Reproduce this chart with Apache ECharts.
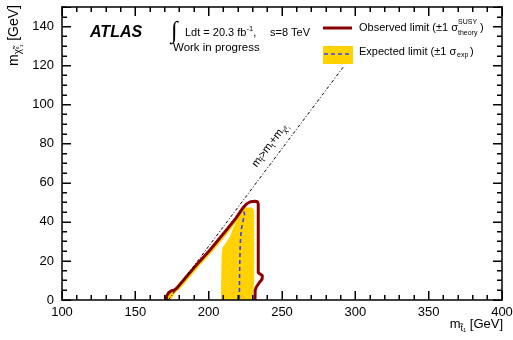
<!DOCTYPE html>
<html>
<head>
<meta charset="utf-8">
<script src="https://cdn.jsdelivr.net/npm/echarts@6/dist/echarts.min.js"></script>
<style>
  html, body { margin: 0; padding: 0; background: #fff; }
  #chart { width: 513px; height: 340px; }
</style>
</head>
<body>
<div id="chart"></div>
<script>
// Axis ticks
const xTickLabels = [100, 150, 200, 250, 300, 350, 400];
const yTickLabels = [0, 20, 40, 60, 80, 100, 120, 140];
const yRange = [0, 150];
const xMinorDivisions = 5;   // minor ticks every 10 GeV
const yMinorDivisions = 4;   // minor ticks every 5 GeV

// Observed 95% CL exclusion contour (m_stop, m_neutralino) in GeV
const observedLimit = [
  [170.9, 0], [171.5, 2.3], [172.8, 3.8], [174.6, 4.7], [176.3, 5.0], [178.2, 6.0],
  [184.5, 11.6], [190.7, 17.1], [200.9, 25.6], [211.0, 34.8], [218.5, 41.8],
  [221.4, 45.0], [223.5, 47.3], [226.0, 49.3], [228.5, 50.3], [231.6, 50.5],
  [233.3, 50.3], [233.8, 49.2], [233.8, 30.0], [233.8, 14.0], [234.6, 13.2],
  [236.6, 12.6], [237.2, 11.8], [236.4, 10.6], [234.4, 8.8], [232.6, 6.8],
  [231.7, 5.0], [231.6, 0]
];

// Expected exclusion contour
const expectedLimit = [
  [171.2, 0], [172.2, 2.6], [174.0, 4.2], [176.6, 5.2], [178.6, 6.3], [191.0, 17.4],
  [201.3, 26.0], [211.4, 35.1], [218.0, 41.3], [221.0, 44.2], [222.6, 45.3],
  [224.0, 45.2], [224.5, 44.0], [223.6, 41.0], [222.2, 36.0], [221.5, 28.0],
  [221.1, 15.0], [220.9, 0]
];

// Expected +1 sigma contour (outer edge of the band)
const expectedBandOuter = [
  [170.6, 0], [171.2, 2.4], [172.6, 4.0], [174.5, 4.9], [176.3, 5.2], [178.2, 6.2],
  [190.7, 17.3], [200.9, 25.8], [211.0, 35.0], [218.5, 41.8], [221.4, 44.6],
  [223.6, 46.6], [225.0, 47.4], [229.5, 47.4], [230.6, 46.5], [231.0, 44.0],
  [231.0, 10.0], [230.6, 6.0], [230.2, 0]
];

// Expected -1 sigma contour (inner edge of the band)
const expectedBandInner = [
  [174.2, 0], [177.0, 3.6], [180.9, 6.0], [193.4, 17.1], [203.6, 25.6],
  [213.7, 34.8], [219.5, 40.6], [216.5, 36.5], [214.5, 32.4], [211.5, 29.0],
  [209.3, 26.5], [208.8, 22.0], [208.4, 0]
];

// Kinematic boundary m_stop = m_top + m_neutralino
const kinematicLimit = [[172.5, 0], [292.5, 120]];

const FONT = '"Liberation Sans", Arial, Helvetica, sans-serif';
const RED = '#8b0000';
const YELLOW = '#ffd200';
const BLUE = '#3c3cff';

const xMin = xTickLabels[0];
const xMax = xTickLabels[xTickLabels.length - 1];
const xStep = xTickLabels[1] - xTickLabels[0];
const yStep = yTickLabels[1] - yTickLabels[0];
const MAJOR = 9, MINOR = 5;

function xAxisCfg(position, showLabels) {
  return {
    type: 'value', position, min: xMin, max: xMax, interval: xStep, z: 10,
    axisLine: { show: true, onZero: false, lineStyle: { color: '#000', width: 1.5 } },
    axisTick: { show: true, inside: true, length: MAJOR, lineStyle: { color: '#000', width: 1 } },
    minorTick: { show: true, splitNumber: xMinorDivisions, length: MINOR, lineStyle: { color: '#000', width: 1 } },
    axisLabel: { show: showLabels, color: '#000', fontFamily: FONT, fontSize: 13, margin: 6 },
    splitLine: { show: false }
  };
}

function yAxisCfg(position, showLabels) {
  return {
    type: 'value', position, min: yRange[0], max: yRange[1], interval: yStep, z: 10,
    axisLine: { show: true, onZero: false, lineStyle: { color: '#000', width: 1.5 } },
    axisTick: { show: true, inside: true, length: MAJOR, lineStyle: { color: '#000', width: 1 } },
    minorTick: { show: true, splitNumber: yMinorDivisions, length: MINOR, lineStyle: { color: '#000', width: 1 } },
    axisLabel: {
      show: showLabels, color: '#000', fontFamily: FONT, fontSize: 13, margin: 8,
      formatter: v => (yTickLabels.indexOf(v) >= 0 ? String(v) : '')
    },
    splitLine: { show: false }
  };
}

function polygonSeries(name, points, color, z) {
  return {
    type: 'custom', name, z,
    coordinateSystem: 'cartesian2d', xAxisIndex: 0, yAxisIndex: 0,
    data: [points[0]],
    renderItem: (params, api) => ({
      type: 'polygon',
      shape: { points: points.map(p => api.coord(p)) },
      style: { fill: color }
    })
  };
}

function lineSeries(name, points, lineStyle, z) {
  return {
    type: 'line', name, z,
    xAxisIndex: 0, yAxisIndex: 0,
    data: points, showSymbol: false, symbol: 'none',
    lineStyle
  };
}

const txt = (size, extra) => Object.assign({ fontFamily: FONT, fontSize: size, fill: '#000' }, extra || {});

const labels = [
  // y axis title
  {
    type: 'text', x: 14, y: 5, rotation: Math.PI / 2, z: 20,
    style: {
      text: '{m|m}{s|χ̃}{ss|⁰₁}{m| [GeV]}',
      textAlign: 'right', textVerticalAlign: 'middle',
      rich: {
        m: txt(14, { lineHeight: 19, verticalAlign: 'middle' }),
        s: txt(10, { lineHeight: 10, verticalAlign: 'bottom' }),
        ss: txt(7, { lineHeight: 8, verticalAlign: 'bottom' })
      }
    }
  },
  // x axis title
  {
    type: 'text', x: 503, y: 324, z: 20,
    style: {
      text: '{m|m}{s|t̃₁}{m| [GeV]}',
      textAlign: 'right', textVerticalAlign: 'middle',
      rich: {
        m: txt(13, { lineHeight: 18, verticalAlign: 'middle' }),
        s: txt(9, { lineHeight: 9, verticalAlign: 'bottom' })
      }
    }
  },
  // experiment label
  {
    type: 'text', x: 90, y: 33, z: 20,
    style: txt(16, { text: 'ATLAS', fontWeight: 'bold', fontStyle: 'italic', textVerticalAlign: 'middle' })
  },
  {
    type: 'text', x: 171, y: 32, z: 20,
    style: txt(24, { text: '∫', fontFamily: '"Liberation Serif", "DejaVu Serif", serif', textVerticalAlign: 'middle' })
  },
  {
    type: 'text', x: 185, y: 33, z: 20,
    style: {
      text: '{m|Ldt = 20.3 fb}{s|-1}{m|,}',
      textVerticalAlign: 'middle',
      rich: {
        m: txt(11, { lineHeight: 16, verticalAlign: 'middle' }),
        s: txt(7.5, { lineHeight: 8, verticalAlign: 'top' })
      }
    }
  },
  {
    type: 'text', x: 270, y: 33, z: 20,
    style: txt(11, { text: 's=8 TeV', textVerticalAlign: 'middle' })
  },
  {
    type: 'text', x: 173, y: 48, z: 20,
    style: txt(11.5, { text: 'Work in progress', textVerticalAlign: 'middle' })
  },
  // legend
  {
    type: 'rect', z: 20,
    shape: { x: 323, y: 26.5, width: 29, height: 3 },
    style: { fill: RED }
  },
  {
    type: 'text', x: 359, y: 28, z: 20,
    style: txt(11, { text: 'Observed limit (±1 σ', textVerticalAlign: 'middle' })
  },
  {
    type: 'text', x: 458, y: 22, z: 20,
    style: txt(7, { text: 'SUSY', textVerticalAlign: 'middle' })
  },
  {
    type: 'text', x: 458, y: 33, z: 20,
    style: txt(7, { text: 'theory', textVerticalAlign: 'middle' })
  },
  {
    type: 'text', x: 480, y: 28, z: 20,
    style: txt(11, { text: ')', textVerticalAlign: 'middle' })
  },
  {
    type: 'rect', z: 20,
    shape: { x: 323, y: 46, width: 30, height: 18 },
    style: { fill: YELLOW }
  },
  {
    type: 'line', z: 21,
    shape: { x1: 324, y1: 54, x2: 352, y2: 54 },
    style: { stroke: BLUE, lineWidth: 1.6, lineDash: [4, 3] }
  },
  {
    type: 'text', x: 359, y: 52, z: 20,
    style: txt(11, { text: 'Expected limit (±1 σ', textVerticalAlign: 'middle' })
  },
  {
    type: 'text', x: 457, y: 55, z: 20,
    style: txt(7, { text: 'exp', textVerticalAlign: 'middle' })
  },
  {
    type: 'text', x: 470, y: 52, z: 20,
    style: txt(11, { text: ')', textVerticalAlign: 'middle' })
  },
  // kinematic boundary label
  {
    type: 'text', x: 270, y: 145, rotation: 53 * Math.PI / 180, z: 20,
    style: {
      text: '{m|m}{s|t̃}{m|>m}{s|t}{m|+m}{s|χ̃}{ss|⁰₁}',
      textAlign: 'center', textVerticalAlign: 'middle',
      rich: {
        m: txt(11, { lineHeight: 15, verticalAlign: 'middle' }),
        s: txt(7.5, { lineHeight: 7, verticalAlign: 'bottom' }),
        ss: txt(5.5, { lineHeight: 6, verticalAlign: 'bottom' })
      }
    }
  }
];

const chart = echarts.init(document.getElementById('chart'));

chart.setOption({
  animation: false,
  grid: { left: 62, right: 11, top: 7, bottom: 40, outerBoundsMode: 'none' },
  xAxis: [xAxisCfg('bottom', true), xAxisCfg('top', false)],
  yAxis: [yAxisCfg('left', true), yAxisCfg('right', false)],
  series: [
    polygonSeries('expected +1 sigma', expectedBandOuter, YELLOW, 2),
    polygonSeries('expected -1 sigma', expectedBandInner, '#fff', 3),
    lineSeries('expected', expectedLimit, { color: BLUE, width: 1.6, type: [4, 3] }, 4),
    lineSeries('observed', observedLimit, { color: RED, width: 3 }, 5),
    lineSeries('kinematic', kinematicLimit, { color: '#000', width: 1, type: [3, 2, 1, 2] }, 6)
  ]
});

// Inward frame ticks as thin filled bars, placed through the grid's scales
function tickValues(lo, hi, step) {
  const out = [];
  for (let i = 0; lo + i * step <= hi + 1e-9; i++) out.push(lo + i * step);
  return out;
}
const ticks = [];
const toPx = p => chart.convertToPixel({ xAxisIndex: 0, yAxisIndex: 0 }, p);
const bar = (x, y, w, h) => ticks.push({
  type: 'rect', z: 25, silent: true,
  shape: { x, y, width: w, height: h }, style: { fill: '#000' }
});
tickValues(xMin, xMax, xStep / xMinorDivisions).forEach(v => {
  const len = Math.abs(v % xStep) < 1e-9 ? MAJOR : MINOR;
  const b = toPx([v, yRange[0]]);
  const t = toPx([v, yRange[1]]);
  bar(Math.round(b[0]) - 0.5, b[1] - len, 1, len);
  bar(Math.round(t[0]) - 0.5, t[1], 1, len);
});
tickValues(yRange[0], yRange[1], yStep / yMinorDivisions).forEach(v => {
  const len = Math.abs(v % yStep) < 1e-9 ? MAJOR : MINOR;
  const l = toPx([xMin, v]);
  const r = toPx([xMax, v]);
  bar(l[0], Math.round(l[1]) - 0.5, len, 1);
  bar(r[0] - len, Math.round(r[1]) - 0.5, len, 1);
});

chart.setOption({ graphic: labels.concat(ticks) });
</script>
</body>
</html>
